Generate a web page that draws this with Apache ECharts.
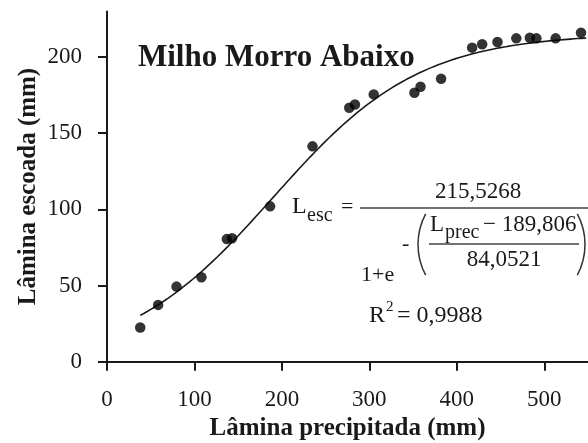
<!DOCTYPE html>
<html>
<head>
<meta charset="utf-8">
<script src="https://cdn.jsdelivr.net/npm/echarts@6/dist/echarts.min.js"></script>
<style>
  html, body { margin: 0; padding: 0; background: #fff; }
  #chart { width: 588px; height: 443px; }
</style>
</head>
<body>
<div id="chart"></div>
<script>
// Observed precipitation depth (mm) and runoff depth (mm)
const precip = [38, 58.5, 79.5, 108, 137, 143, 186.5, 235, 277, 283.5, 305, 351.5, 358.5, 382, 417.5, 429, 446.5, 468, 483.5, 491, 513, 542];
const runoff = [22.4, 37.3, 49.3, 55.5, 80.5, 81, 102, 141.4, 166.7, 168.9, 175.5, 176.6, 180.5, 185.8, 206.2, 208.4, 209.9, 212.3, 212.7, 212.3, 212.3, 216];

// Tick values on each axis
const xTicks = [0, 100, 200, 300, 400, 500];
const yTicks = [0, 50, 100, 150, 200];

// Fitted logistic model: Lesc = a / (1 + e^-((Lprec - b) / c))
const fitA = 215.5268;
const fitB = 189.806;
const fitC = 84.0521;
const fitR2 = 0.9988;
const fitRange = [38, 548];

const fmt = (v, d) => v.toFixed(d).replace('.', ',');

const fitCurve = [];
for (let x = fitRange[0]; x <= fitRange[1]; x += 2) {
  fitCurve.push([x, fitA / (1 + Math.exp(-(x - fitB) / fitC))]);
}

const serif = '"Liberation Serif", "Times New Roman", serif';
const ink = '#1a1a1a';

const chart = echarts.init(document.getElementById('chart'), null, { renderer: 'canvas' });

function txt(x, y, text, size, opts) {
  return Object.assign({
    type: 'text',
    x: x, y: y,
    silent: true,
    style: Object.assign({
      text: text,
      fill: ink,
      font: (opts && opts.bold ? 'bold ' : '') + size + 'px ' + serif,
      align: 'left',
      verticalAlign: 'middle'
    }, opts && opts.style)
  }, opts && opts.el);
}

function hline(x1, x2, y, w) {
  return {
    type: 'line', silent: true,
    shape: { x1: x1, y1: y, x2: x2, y2: y },
    style: { stroke: '#444', lineWidth: w || 1.5 }
  };
}

chart.setOption({
  animation: false,
  backgroundColor: '#fff',
  grid: { left: 107, right: 0, top: 11.4, bottom: 81.3, containLabel: false, outerBoundsMode: 'none' },
  xAxis: {
    type: 'value',
    min: 0, max: 550,
    name: 'Lâmina precipitada (mm)',
    nameLocation: 'middle',
    nameGap: 54,
    nameMoveOverlap: false,
    nameTextStyle: { fontFamily: serif, fontWeight: 'bold', fontSize: 25, color: ink },
    axisLine: { lineStyle: { color: ink, width: 2 } },
    axisTick: { show: true, length: 9, inside: false, lineStyle: { color: ink, width: 2 }, customValues: xTicks },
    axisLabel: { fontFamily: serif, fontSize: 23, color: ink, margin: 27, customValues: xTicks },
    splitLine: { show: false }
  },
  yAxis: {
    type: 'value',
    min: 0, max: 230,
    name: 'Lâmina escoada (mm)',
    nameLocation: 'middle',
    nameGap: 66,
    nameMoveOverlap: false,
    nameTextStyle: { fontFamily: serif, fontWeight: 'bold', fontSize: 25, color: ink },
    axisLine: { show: true, lineStyle: { color: ink, width: 2 } },
    axisTick: { show: true, length: 9, inside: false, lineStyle: { color: ink, width: 2 }, customValues: yTicks },
    axisLabel: { fontFamily: serif, fontSize: 23, color: ink, margin: 25, customValues: yTicks },
    splitLine: { show: false }
  },
  series: [
    {
      type: 'line',
      data: fitCurve,
      showSymbol: false,
      smooth: false,
      lineStyle: { color: ink, width: 1.6 },
      silent: true,
      z: 2
    },
    {
      type: 'scatter',
      data: precip.map((p, i) => [p, runoff[i]]),
      symbol: 'circle',
      symbolSize: 10.5,
      itemStyle: { color: '#000' },
      z: 3
    }
  ],
  graphic: [
    txt(138, 58, 'Milho Morro Abaixo', 31, { bold: true }),
    // Lesc =
    txt(292, 207, 'L', 24),
    txt(307, 216, 'esc', 20),
    txt(341, 207, '=', 22),
    hline(360, 588, 208),
    txt(478, 192, fmt(fitA, 4), 23, { style: { align: 'center' } }),
    // exponent: -( (Lprec - b) / c )
    txt(402, 244, '-', 22),
    {
      type: 'arc', silent: true,
      shape: { cx: 483, cy: 244.5, r: 65, startAngle: Math.PI - Math.PI / 6.4, endAngle: Math.PI + Math.PI / 6.4 },
      style: { stroke: '#333', lineWidth: 1.5, fill: null }
    },
    {
      type: 'arc', silent: true,
      shape: { cx: 520, cy: 244.5, r: 65, startAngle: -Math.PI / 6.4, endAngle: Math.PI / 6.4 },
      style: { stroke: '#333', lineWidth: 1.5, fill: null }
    },
    txt(430, 225, 'L', 23),
    txt(445, 233, 'prec', 20),
    txt(483, 225, '− ' + fmt(fitB, 3), 23),
    hline(429, 579, 244),
    txt(504, 260, fmt(fitC, 4), 23, { style: { align: 'center' } }),
    txt(361, 275, '1+e', 22),
    // goodness of fit
    txt(369, 316, 'R', 24),
    txt(386, 307, '2', 15),
    txt(397, 316, '= ' + fmt(fitR2, 4), 24)
  ]
});
</script>
</body>
</html>
